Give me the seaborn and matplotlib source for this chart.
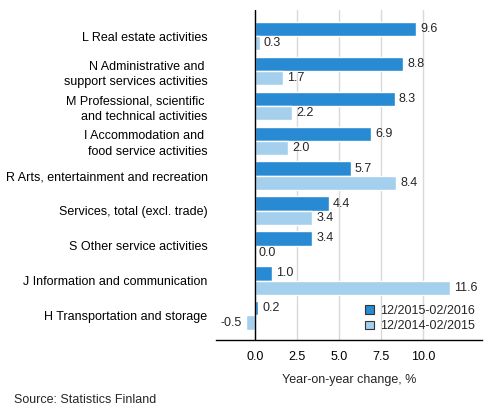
import matplotlib
matplotlib.use("Agg")
import matplotlib.pyplot as plt
import seaborn as sns
import pandas as pd

categories = [
    "L Real estate activities",
    "N Administrative and \nsupport services activities",
    "M Professional, scientific \nand technical activities",
    "I Accommodation and \nfood service activities",
    "R Arts, entertainment and recreation",
    "Services, total (excl. trade)",
    "S Other service activities",
    "J Information and communication",
    "H Transportation and storage",
]
series_names = ["12/2015-02/2016", "12/2014-02/2015"]
values_2016 = [9.6, 8.8, 8.3, 6.9, 5.7, 4.4, 3.4, 1.0, 0.2]
values_2015 = [0.3, 1.7, 2.2, 2.0, 8.4, 3.4, 0.0, 11.6, -0.5]
xticks = [0.0, 2.5, 5.0, 7.5, 10.0]

df = pd.DataFrame({
    "category": categories * 2,
    "series": [series_names[0]] * len(categories) + [series_names[1]] * len(categories),
    "value": values_2016 + values_2015,
})

sns.set_style("white")
plt.rcParams["font.family"] = ["Liberation Sans", "DejaVu Sans"]
plt.rcParams["font.size"] = 9

fig = plt.figure(figsize=(4.93, 4.16), dpi=100)
ax = fig.add_axes([0.438, 0.183, 0.540, 0.793])

palette = {series_names[0]: "#278AD2", series_names[1]: "#A4D0EE"}
sns.barplot(data=df, y="category", x="value", hue="series", orient="h",
            palette=palette, width=0.82, ax=ax, saturation=1, legend=True)

ax.set_xlim(-2.3, 13.5)
ax.set_ylim(8.7, -0.75)
ax.set_xticks(xticks)
ax.set_xticklabels([f"{t:.1f}" for t in xticks])
ax.grid(axis="x", color="#d9d9d9", linewidth=1)
ax.set_axisbelow(True)
ax.axvline(0, color="black", linewidth=1, zorder=3)
for s in ["top", "right", "left"]:
    ax.spines[s].set_visible(False)
ax.spines["bottom"].set_color("black")
ax.spines["bottom"].set_linewidth(1)
ax.tick_params(axis="both", length=0, labelsize=9, colors="black")
ax.tick_params(axis="y", pad=6)
ax.tick_params(axis="x", pad=8)
for lbl in ax.get_yticklabels():
    lbl.set_multialignment("right")
    lbl.set_linespacing(1.35)
ax.set_ylabel("")
ax.set_xlabel("Year-on-year change, %", fontsize=9, labelpad=8)

for cont in ax.containers:
    ax.bar_label(cont, fmt="%.1f", padding=3, fontsize=9)

leg = ax.legend(loc="lower right", frameon=False, fontsize=9, handlelength=0.7,
                handleheight=0.7, handletextpad=0.5, borderaxespad=0.2, labelspacing=0.3)
for h in leg.legend_handles:
    h.set_edgecolor("#333333")
    h.set_linewidth(0.8)

fig.text(0.028, 0.038, "Source: Statistics Finland", fontsize=9, ha="left", va="center")

fig.savefig("out.png", dpi=100)
